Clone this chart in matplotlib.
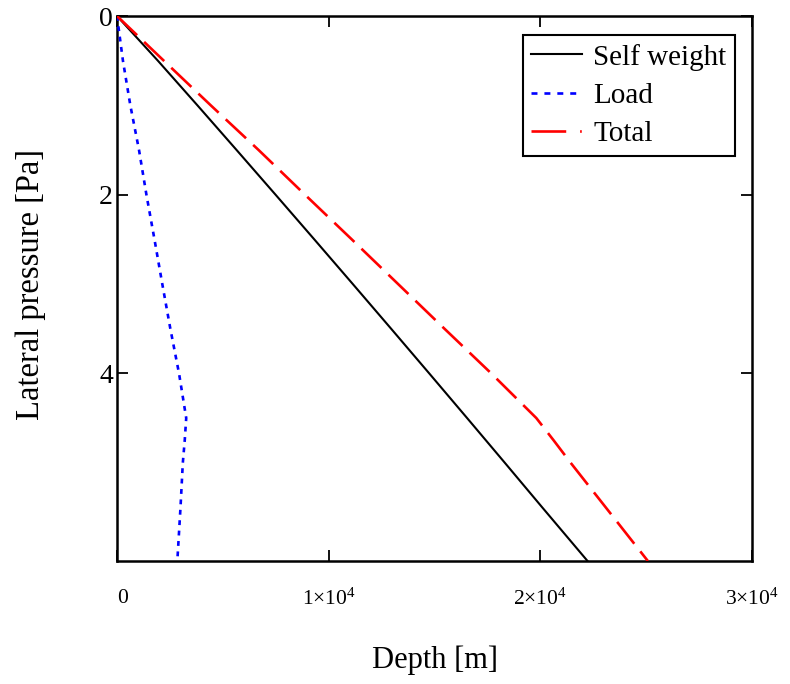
import matplotlib
matplotlib.use("Agg")
import matplotlib.pyplot as plt
import matplotlib.transforms as mtransforms
from matplotlib.lines import Line2D
import numpy as np

# Lateral pressure levels and the depth reached by each load case [m]
pressure = [0.0, 0.5, 1.0, 1.5, 2.0, 2.5, 3.0, 3.5, 4.0, 4.25, 4.5, 4.75, 5.0, 5.5, 6.1]
self_weight = [0, 1930, 3800, 5650, 7490, 9320, 11140, 12950, 14750, 15645,
               16540, 17430, 18320, 20090, 22230]
load = [0, 280, 630, 1040, 1390, 1770, 2140, 2520, 2930, 3100,
        3270, 3200, 3110, 3000, 2850]
total = list(np.add(self_weight, load))

x_ticks = [0, 10000, 20000, 30000]
x_tick_labels = ["0", r"$1{\times}10^{4}$", r"$2{\times}10^{4}$", r"$3{\times}10^{4}$"]
y_ticks = [0, 2, 4]
y_tick_labels = ["0", "2", "4"]
series_names = ["Self weight", "Load", "Total"]

plt.rcParams["font.family"] = ["Liberation Serif", "DejaVu Serif"]
plt.rcParams["mathtext.fontset"] = "custom"
plt.rcParams["mathtext.rm"] = "Liberation Serif"
plt.rcParams["mathtext.it"] = "Liberation Serif:italic"
plt.rcParams["lines.scale_dashes"] = False

fig = plt.figure(figsize=(7.9, 6.84), dpi=100)
ax = fig.add_axes([117 / 790, 1 - 561 / 684, 635 / 790, 545 / 684])

red_dash = (0, (20, 7))
blue_dash = (0, (3.5, 4))

ax.plot(self_weight, pressure, color="black", lw=1.5, zorder=3)
ax.plot(load, pressure, color="#0000ff", lw=1.9, linestyle=blue_dash, zorder=3)
ax.plot(total, pressure, color="#ff0000", lw=1.9, linestyle=red_dash, zorder=4)

ax.set_xlim(0, 30000)
ax.set_ylim(6.1, 0)

ax.set_xticks(x_ticks)
ax.set_xticklabels(x_tick_labels, fontsize=15.5)
ax.set_yticks(y_ticks)
ax.set_yticklabels(y_tick_labels, fontsize=20)

ax.tick_params(axis="both", direction="in", length=8, width=1.3,
               top=True, right=True, color="black")
ax.tick_params(axis="x", pad=20)
ax.tick_params(axis="y", pad=3)

# nudge the zero depth label off the corner
xl = ax.get_xticklabels()
shift = mtransforms.ScaledTranslation(6 / 100, 0, fig.dpi_scale_trans)
xl[0].set_transform(xl[0].get_transform() + shift)

for s in ax.spines.values():
    s.set_linewidth(1.8)
    s.set_color("black")

ax.set_xlabel("Depth [m]", fontsize=22, va="center")
ax.xaxis.set_label_coords(0.5, -0.182)
ax.set_ylabel("Lateral pressure [Pa]", fontsize=23.5, va="center")
ax.yaxis.set_label_coords(-0.136, 0.507)

handles = [
    Line2D([], [], color="black", lw=1.5),
    Line2D([], [], color="#0000ff", lw=1.9, linestyle=(0, (4.3, 5.0))),
    Line2D([], [], color="#ff0000", lw=1.9, linestyle=(0, (25, 10, 1.2, 10))),
]
leg = ax.legend(handles, series_names, loc="upper right",
                bbox_to_anchor=(0.973, 0.965), borderaxespad=0,
                fontsize=21, frameon=True, fancybox=False, framealpha=1,
                edgecolor="black", handlelength=1.75, handletextpad=0.38,
                borderpad=0.29, labelspacing=0.41)
leg.get_frame().set_linewidth(1.5)

fig.savefig("out.png", dpi=100)
